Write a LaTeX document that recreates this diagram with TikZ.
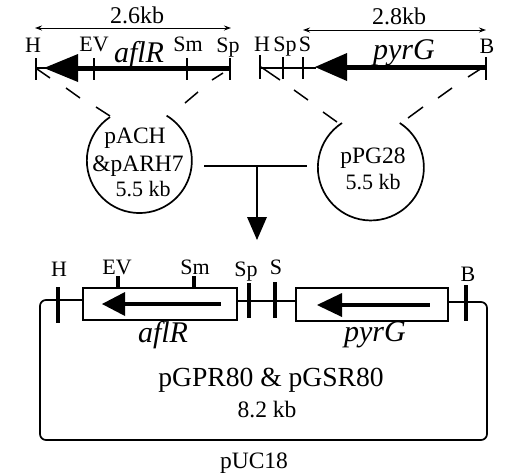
\documentclass[tikz,border=0pt]{standalone}
\usepackage{fontspec}
\setmainfont{Liberation Serif}
\usetikzlibrary{arrows.meta}
\newcommand{\fs}[1]{\fontsize{#1}{#1}\selectfont}
\tikzset{
  lab/.style={inner sep=0pt,anchor=base,font=\fs{22}},
  big/.style={inner sep=0pt,anchor=base,font=\fs{23.5}},
  kb/.style={inner sep=0pt,anchor=base,font=\fs{22}},
  gene/.style={inner sep=0pt,anchor=base,font=\fs{30}\itshape},
  thinln/.style={line width=1.4pt},
  tick/.style={line width=1.6pt},
  dim/.style={line width=0.9pt,{Stealth[length=7pt,width=5pt]}-{Stealth[length=7pt,width=5pt]}},
  dashseg/.style={line width=1.5pt},
  shaft/.style={line width=5pt},
  shaftb/.style={line width=3.5pt},
  bartick/.style={line width=3.2pt},
  plasmid/.style={line width=1.7pt},
  head/.style={fill=black,draw=none}
}
\begin{document}
\begin{tikzpicture}[x=1pt,y=-1pt]
\useasboundingbox (0,0) rectangle (513,475);
% ---------- top left map
\node[kb,font=\fs{24}] (l26) at (137,23) {2.6kb};
\coordinate (la) at (35,28); \coordinate (lb) at (231,28);
\draw[dim] (la) -- (lb);
\node[lab] (lH) at (33,52) {H};
\node[lab] (lEV) at (94,51) {EV};
\node[lab] (lSm) at (188,51) {Sm};
\node[lab] (lSp) at (228,52) {Sp};
\node[gene] (lg) at (139,62) {aflR};
\draw[thinln] (36,68) -- (46,68);
\draw[shaft] (78,68) -- (230,68);
\fill[head] (44,68) -- (78,54) -- (78,82) -- cycle;
\foreach \x in {36,94,187,230} \draw[tick] (\x,58) -- (\x,80);
% dashes left
\draw[dashseg] (37,69) -- (50,78);
\draw[dashseg] (66,88) -- (80,98);
\draw[dashseg] (96,107) -- (110,116);
\draw[dashseg] (212,80) -- (223,73);
\draw[dashseg] (185,103) -- (198,92);
% circle left
\coordinate (cl) at (110,117);
\draw[plasmid] (cl) arc[start angle=124,end angle=418.7,radius=52.5pt];
\node[big] (c1a) at (135,143) {pACH};
\node[big] (c1b) at (138,171) {\&pARH7};
\node[kb] (c1c) at (143,196) {5.5 kb};
% ---------- top right map
\node[kb,font=\fs{24}] (r28) at (399,24) {2.8kb};
\coordinate (ra) at (303,30); \coordinate (rb) at (486,30);
\draw[dim] (ra) -- (rb);
\node[lab] (rH) at (262,51) {H};
\node[lab] (rSp) at (285,51) {Sp};
\node[lab] (rS) at (305,51) {S};
\node[lab] (rB) at (487,53) {B};
\node[gene] (rg) at (404,59) {pyrG};
\draw[thinln] (260,68) -- (316,68);
\draw[shaft] (346,67.5) -- (486,67.5);
\fill[head] (315,67) -- (347,53) -- (347,81) -- cycle;
\foreach \x/\a/\b in {260/55/79,283/57/79,303/57/79,486/57/80} \draw[tick] (\x,\a) -- (\x,\b);
\draw[dashseg] (261,67) -- (280,80);
\draw[dashseg] (294,90) -- (308,100);
\draw[dashseg] (323,112) -- (337,122);
\draw[dashseg] (468,77) -- (482,68);
\draw[dashseg] (438,98) -- (452,88);
\draw[dashseg] (408,118) -- (423,107);
\coordinate (cr) at (342,123);
\draw[plasmid] (cr) arc[start angle=123,end angle=417,radius=53pt];
\node[big] (c2a) at (373,163) {pPG28};
\node[kb] (c2b) at (373,189) {5.5 kb};
% ---------- connector
\coordinate (ja) at (204,166); \coordinate (jb) at (307,166);
\coordinate (jc) at (257,166); \coordinate (jd) at (257,218);
\draw[thinln] (ja) -- (jb);
\draw[thinln] (jc) -- (jd);
\fill[head] (257,240) -- (247,217) -- (267,217) -- cycle;
% ---------- bottom plasmid
\node[draw,plasmid,fill=none,minimum width=154pt,minimum height=32pt,inner sep=0pt] (b1) at (160,304) {};
\node[draw,plasmid,fill=none,minimum width=152pt,minimum height=33pt,inner sep=0pt] (b2) at (372,304.5) {};
\draw[plasmid,rounded corners=6pt] (b1.west |- 0,300) -- (40,300) -- (40,440) -- (487,440) -- (487,302) -- (b2.east |- 0,302);
\draw[plasmid] (b1.east |- 0,301) -- (b2.west |- 0,301);
\draw[shaftb] (124,304) -- (221,304);
\fill[head] (102,304) -- (125,292) -- (125,316) -- cycle;
\draw[shaftb] (341,305) -- (430,305);
\fill[head] (317,305) -- (342,293) -- (342,317) -- cycle;
\foreach \x/\a/\b in {58/287/323,118/276/289,194/276/289,249/283/318,275/282/318,466/285/321}
  \draw[bartick] (\x,\a) -- (\x,\b);
\node[lab] (bH) at (59,276) {H};
\node[lab] (bEV) at (117,274) {EV};
\node[lab] (bSm) at (195,274) {Sm};
\node[lab] (bSp) at (246,276) {Sp};
\node[lab] (bS) at (276,274) {S};
\node[lab] (bB) at (468,281) {B};
\node[gene] (bg1) at (163,342) {aflR};
\node[gene] (bg2) at (375,341) {pyrG};
\node[inner sep=0pt,anchor=base,font=\fs{27.6}] (title) at (271,386) {pGPR80 \& pGSR80};
\node[inner sep=0pt,anchor=base,font=\fs{23.5}] (size) at (267,417) {8.2 kb};
\node[big] (puc) at (254,468) {pUC18};
\end{tikzpicture}
\end{document}
